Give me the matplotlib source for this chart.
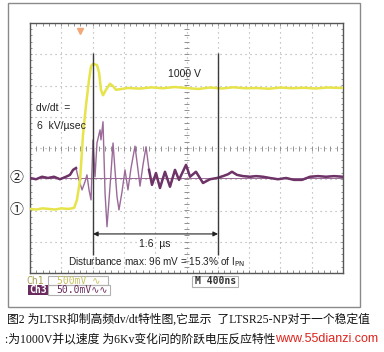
import matplotlib
matplotlib.use("Agg")
import matplotlib.pyplot as plt
import numpy as np
from matplotlib.patches import Rectangle

W, H = 384, 352

# ---- data ----
# Ch1: step voltage (V) vs time from left edge (ns)
ch1_t = [0, 80, 160, 240, 320, 400, 480, 540, 565, 600, 640, 677, 716, 754,
         780, 805, 856, 882, 907, 933, 971, 1022, 1061, 1099, 1150, 1250,
         1400, 1550, 1700, 1850, 2000, 2150, 2300, 2450, 2600, 2750, 2900,
         3050, 3200, 3350, 3500, 3650, 3800, 4000]
ch1_v = [0, -5, 5, 0, -5, 5, 0, 5, 10, 75, 240, 610, 860, 1065,
         1180, 1200, 1190, 1130, 985, 940, 985, 1035, 1015, 985, 990, 1000,
         995, 1005, 998, 1008, 1000, 992, 1004, 996, 1006, 998, 1000,
         994, 1004, 998, 1002, 996, 1004, 1000]

# Ch3: sensor output disturbance (mV) vs time (ns)
ch3_t = [0, 77, 153, 230, 307, 383, 460, 511, 550, 588, 613, 665, 703, 728,
         754, 780, 805, 831, 856, 895, 907, 933, 959, 984, 1010, 1035, 1061,
         1086, 1112, 1137, 1176, 1214, 1252, 1291, 1342, 1380, 1406, 1444,
         1483, 1521, 1559, 1610, 1661, 1725, 1789, 1853, 1904, 1994, 2045,
         2121, 2211, 2300, 2390, 2466, 2530, 2581, 2645, 2722, 2812, 2888,
         2978, 3067, 3170, 3272, 3374, 3476, 3578, 3681, 3783, 3885, 4000]
ch3_mv = [0, -2, 2, 0, 2, -2, 2, 5, 13, 16, 2, -19, -6, 5,
          -19, -35, 61, 2, 56, 77, 61, 90, -24, -78, -35, 8, 56,
          13, -30, -51, -22, 13, -19, 16, 51, 13, -13, 21,
          50, 13, -11, 8, -16, 10, -14, 13, -3, 21, 2,
          10, -8, -2, 0, 3, 6, 10, 5, 3, 2, 3,
          2, 0, -2, 0, -3, -3, 2, 3, 2, 3, 2]

cursor_t = [805, 2403]          # ns, 1.6 us apart
ch1_zero_div, ch1_v_per_div = -1.95, 258.4
ch3_zero_div, ch3_mv_per_div = -0.96, 50.0

caption1 = "图2 为LTSR抑制高频dv/dt特性图,它显示  了LTSR25-NP对于一个稳定值"
caption2 = ":为1000V并以速度 为6Kv变化问的阶跃电压反应特性"


def fx(x):
    return x / W


def fy(y):
    return 1 - y / H


fig = plt.figure(figsize=(W / 100, H / 100), dpi=100)
fig.patch.set_facecolor("white")

# outer frame of the screenshot
fig.patches.append(Rectangle((fx(8), fy(307)), fx(360) - fx(8), fy(3) - fy(307),
                             transform=fig.transFigure, fill=False,
                             edgecolor="#8a8a8a", lw=1.0))

ax = fig.add_axes([fx(30), fy(273), fx(343) - fx(30), fy(23) - fy(273)])
ax.set_xlim(0, 4000)
ax.set_ylim(-4, 4)
ax.set_facecolor("white")

# graticule
grid_kw = dict(color="#a8a8a8", lw=0.8, linestyle=(0, (1, 3.5)), zorder=1)
for gx in range(400, 4000, 400):
    ax.axvline(gx, **grid_kw)
for gy in range(-3, 4):
    ax.axhline(gy, **grid_kw)
tick_kw = dict(color="#909090", lw=0.7, zorder=1)
for mt in np.arange(0, 4001, 80):
    ax.vlines(mt, -0.08, 0.08, **tick_kw)
    ax.vlines(mt, -4, -3.9, **tick_kw)
    ax.vlines(mt, 3.9, 4, **tick_kw)
for mt in np.arange(-4, 4.01, 0.2):
    ax.hlines(mt, 1970, 2030, **tick_kw)
    ax.hlines(mt, 0, 25, **tick_kw)
    ax.hlines(mt, 3975, 4000, **tick_kw)
for s in ax.spines.values():
    s.set_color("#555555")
    s.set_linewidth(1.0)
ax.set_xticks([])
ax.set_yticks([])

# traces
ch1_y = ch1_zero_div + np.array(ch1_v) / ch1_v_per_div
ax.plot(ch1_t, ch1_y, color="#e6e44a", lw=1.8, zorder=4)

t3 = np.array(ch3_t)
y3 = ch3_zero_div + np.array(ch3_mv) / ch3_mv_per_div
ax.axhline(ch3_zero_div, color="#9a6a94", lw=0.7, zorder=2)
ax.plot(t3, y3, color="#9a6a98", lw=1.0, zorder=3)
ax.plot(np.where(t3 <= 610, t3, np.nan), y3, color="#6e3468", lw=1.8, zorder=3)
ax.plot(np.where(t3 >= 1521, t3, np.nan), y3, color="#6e3468", lw=1.8, zorder=3)

# cursors and delta-t arrow
for ct in cursor_t:
    ax.vlines(ct, -3.42, 3.04, color="#3a3a3a", lw=1.0, zorder=5)
ax.annotate("", xy=(cursor_t[0], -2.75), xytext=(cursor_t[1], -2.75),
            arrowprops=dict(arrowstyle="<|-|>", color="#222222", lw=0.8,
                            mutation_scale=7, shrinkA=0, shrinkB=0), zorder=6)

# trigger marker
ax.plot([639], [3.75], marker="v", ms=5, color="#f2a878", clip_on=False, zorder=6)

sans = ["Liberation Sans", "DejaVu Sans"]
fig.text(fx(184), fy(74), "1000 V", ha="center", va="center", fontsize=7.5,
         family=sans, color="#222222")
fig.text(fx(36), fy(108), "dv/dt  =", ha="left", va="center", fontsize=7.5,
         family=sans, color="#222222")
fig.text(fx(37), fy(126), "6  kV/µsec", ha="left", va="center", fontsize=7.5,
         family=sans, color="#222222")
fig.text(fx(155), fy(244), "1.6  µs", ha="center", va="center", fontsize=7.5,
         family=sans, color="#222222")
fig.text(fx(68), fy(262), "Disturbance max: 96 mV = 15.3% of I$_{\\rm PN}$",
         ha="left", va="center", fontsize=7.2, family=sans, color="#222222")

circ = ["Noto Sans CJK SC", "DejaVu Sans"]
fig.text(fx(16), fy(178), "②", ha="center", va="center", fontsize=10,
         family=circ, color="#222222")
fig.text(fx(16), fy(210), "①", ha="center", va="center", fontsize=10,
         family=circ, color="#222222")

# channel readouts
mono = ["DejaVu Sans Mono", "DejaVu Sans"]
fig.text(fx(26), fy(280.5), "Ch1", ha="left", va="center", fontsize=7,
         family=mono, color="#a8a050")
fig.patches.append(Rectangle((fx(48), fy(285)), fx(108) - fx(48), fy(276) - fy(285),
                             transform=fig.transFigure, fill=False,
                             edgecolor="#b0b0b0", lw=0.8))
fig.text(fx(57), fy(280.5), "500mV ∿", ha="left", va="center", fontsize=7,
         family=mono, color="#c8c060")
fig.patches.append(Rectangle((fx(28), fy(295)), fx(48) - fx(28), fy(285) - fy(295),
                             transform=fig.transFigure, facecolor="#6a2a5e",
                             edgecolor="none"))
fig.text(fx(29), fy(290), "Ch3", ha="left", va="center", fontsize=7,
         family=mono, color="white", weight="bold")
fig.patches.append(Rectangle((fx(48), fy(295)), fx(110) - fx(48), fy(285) - fy(295),
                             transform=fig.transFigure, fill=False,
                             edgecolor="#b0b0b0", lw=0.8))
fig.text(fx(56), fy(290), "50.0mV∿∿", ha="left", va="center", fontsize=7,
         family=mono, color="#6a2a5e")
fig.patches.append(Rectangle((fx(192), fy(287)), fx(238) - fx(192), fy(276) - fy(287),
                             transform=fig.transFigure, fill=False,
                             edgecolor="#b0b0b0", lw=0.8))
fig.text(fx(195), fy(281.5), "M 400ns", ha="left", va="center", fontsize=7,
         family=mono, color="#333333", weight="bold")

# caption
cap = ["Liberation Serif", "Noto Sans CJK SC"]
fig.text(fx(7), fy(319), caption1, ha="left", va="center", fontsize=8.5,
         family=cap, color="#111111")
fig.text(fx(5), fy(340), caption2, ha="left", va="center", fontsize=8.5,
         family=cap, color="#111111")
fig.text(fx(378), fy(339), "www.55dianzi.com", ha="right", va="center",
         fontsize=9, family=sans, color="#e0231c")

fig.savefig("out.png", dpi=100, facecolor="white")
